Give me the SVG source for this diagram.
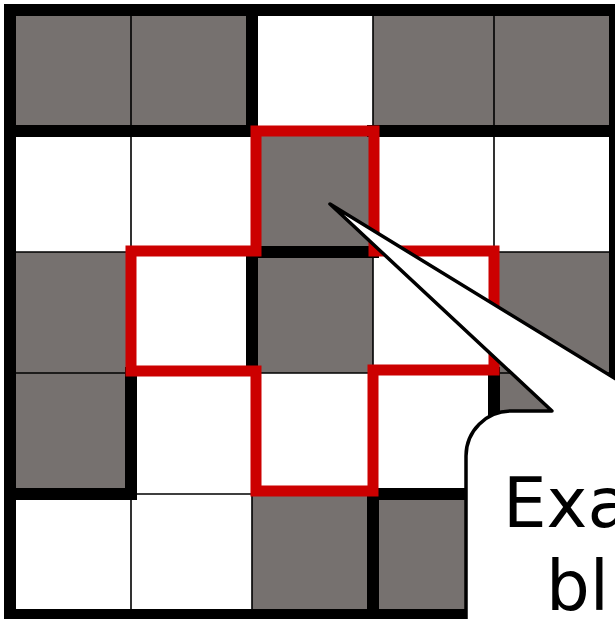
<svg xmlns="http://www.w3.org/2000/svg" width="615" height="619" viewBox="0 0 615 619">
<style>
.g{fill:#76716f}
.w{fill:#ffffff}
.thin{stroke:#000;stroke-width:1.6;fill:none}
.thick{stroke:#000;stroke-width:12;fill:none;stroke-linecap:square}
.red{stroke:#cc0000;stroke-width:11;fill:none;stroke-linejoin:miter;stroke-linecap:square}
.callout{fill:#fff;stroke:#000;stroke-width:3.5;stroke-linejoin:round}
.t{font-family:"DejaVu Sans",sans-serif;font-size:69px;fill:#000}
</style>
<rect x="0" y="0" width="615" height="619" fill="#fff"/>
<g id="cells">
<rect class="g" x="10" y="10" width="121" height="121"/>
<rect class="g" x="131" y="10" width="121" height="121"/>
<rect class="w" x="252" y="10" width="121" height="121"/>
<rect class="g" x="373" y="10" width="121" height="121"/>
<rect class="g" x="494" y="10" width="121" height="121"/>
<rect class="w" x="10" y="131" width="121" height="121"/>
<rect class="w" x="131" y="131" width="121" height="121"/>
<rect class="g" x="252" y="131" width="121" height="121"/>
<rect class="w" x="373" y="131" width="121" height="121"/>
<rect class="w" x="494" y="131" width="121" height="121"/>
<rect class="g" x="10" y="252" width="121" height="121"/>
<rect class="w" x="131" y="252" width="121" height="121"/>
<rect class="g" x="252" y="252" width="121" height="121"/>
<rect class="w" x="373" y="252" width="121" height="121"/>
<rect class="g" x="494" y="252" width="121" height="121"/>
<rect class="g" x="10" y="373" width="121" height="121"/>
<rect class="w" x="131" y="373" width="121" height="121"/>
<rect class="w" x="252" y="373" width="121" height="121"/>
<rect class="w" x="373" y="373" width="121" height="121"/>
<rect class="g" x="494" y="373" width="121" height="121"/>
<rect class="w" x="10" y="494" width="121" height="121"/>
<rect class="w" x="131" y="494" width="121" height="121"/>
<rect class="g" x="252" y="494" width="121" height="121"/>
<rect class="g" x="373" y="494" width="121" height="121"/>
<rect class="g" x="494" y="494" width="121" height="121"/>
</g>
<g id="thin-lines">
<path class="thin" d="M10,131H615M10,252H615M10,373H615M10,494H615M131,10V615M252,10V615M373,10V615M494,10V615"/>
</g>
<g id="thick-lines">
<path class="thick" d="M10,10H615V615H10Z"/>
<path class="thick" d="M10,131H252M373,131H615M252,252H373M10,494H131M373,494H494"/>
<path class="thick" d="M131,373V494M252,10V131M494,373V494M373,494V615"/>
<path class="thick" style="stroke-linecap:butt" d="M252,246V370"/>
</g>
<g id="red-outline">
<path class="red" d="M131,251H256V131H374V251H494V370H373V491H256V371H131Z"/>
</g>
<g id="callout">
<path class="callout" d="M511,411H552L330,204L668,411H800V700H466V456A45,45 0 0 1 511,411Z"/>
<text class="t" x="503" y="527">Exa</text>
<text class="t" x="546" y="610">bl</text>
</g>
</svg>
